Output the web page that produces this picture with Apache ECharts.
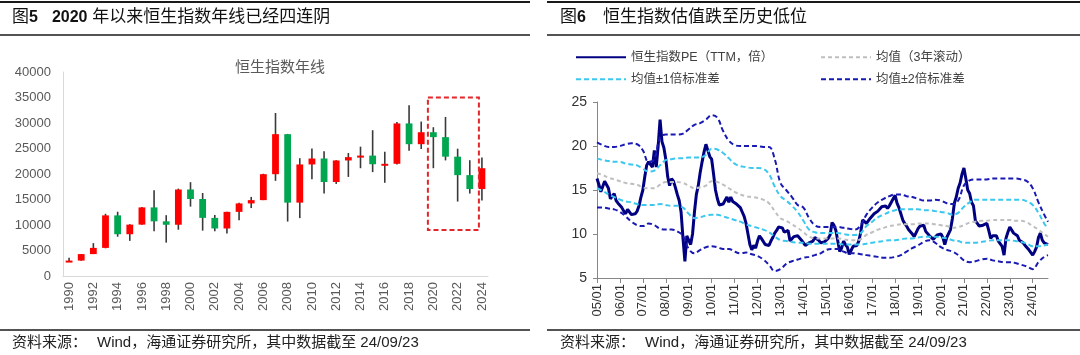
<!DOCTYPE html>
<html><head><meta charset="utf-8">
<script src="https://cdn.jsdelivr.net/npm/echarts@6/dist/echarts.min.js"></script>
<style>html,body{margin:0;padding:0;background:#fff}#c{width:1080px;height:355px}</style>
</head><body><div id="c"></div>
<script>
// ---------- Left panel: Hang Seng yearly candles ----------
const years = ['1990','1991','1992','1993','1994','1995','1996','1997','1998','1999','2000','2001','2002','2003','2004','2005','2006','2007','2008','2009','2010','2011','2012','2013','2014','2015','2016','2017','2018','2019','2020','2021','2022','2023','2024'];
const hsiOpen  = [2838,3025,4297,5512,11888,8191,10073,13451,10723,10049,16962,15096,11397,9321,12576,14230,14876,19965,27813,14387,21873,23035,18434,22657,23306,23605,21914,22001,29919,25846,28190,27231,23398,19781,17047];
const hsiClose = [3025,4297,5512,11888,8191,10073,13451,10723,10049,16962,15096,11397,9321,12576,14230,14876,19965,27813,14387,21873,23035,18434,22657,23306,23605,21914,22001,29919,25846,28190,27231,23398,19781,17047,21133];
const hsiLow   = [2736,2984,4297,5437,7707,6890,10073,8775,6545,9076,13597,8894,8772,8332,10918,13321,14876,18659,10676,11345,18971,16170,18056,19426,21137,20368,18279,21883,24541,24896,21139,22665,14597,16164,14794];
const hsiHigh  = [3559,4298,6447,12201,12599,10158,13530,16820,11926,17138,18397,16274,11975,12594,14339,15508,20049,31958,27853,23099,24988,24468,22718,24112,25363,28588,24364,30200,33484,30280,29175,31183,24966,22701,23241];
const boxRange = {fromYear:'2020', toYear:'2024', top:35000, bottom:9000};

// ---------- Right panel: HSI PE (monthly, 2005/01 - 2024/09) ----------
const peYears = ['05','06','07','08','09','10','11','12','13','14','15','16','17','18','19','20','21','22','23','24'];
const peValues = [
 16.3,15.6,14.8,15.4,16.0,16.1,15.2,14.0,14.3,14.6,13.8,13.5,
 13.3,13.0,12.6,12.3,12.8,12.6,12.2,12.0,12.3,12.6,13.2,14.2,
 15.0,16.5,17.8,18.2,18.0,17.6,19.5,17.6,20.0,23.0,20.5,19.8,
 18.5,16.5,15.5,16.3,16.0,15.3,14.5,13.8,12.5,9.5,6.9,9.8,
 10.0,8.8,10.0,12.5,14.5,15.5,17.0,18.2,19.3,20.2,19.5,18.8,
 18.5,16.8,15.0,14.0,13.3,13.5,13.4,13.8,14.2,13.6,14.2,13.7,
 13.8,13.4,13.6,13.0,12.5,12.0,11.2,10.0,8.8,8.2,8.7,8.4,
 9.2,9.8,9.5,9.3,8.8,9.0,8.7,9.2,9.6,10.1,10.4,10.8,
 11.0,10.7,10.2,10.0,10.4,9.2,9.3,9.7,9.6,9.8,9.7,9.3,
 9.1,8.7,8.8,9.0,8.9,9.2,9.6,9.8,9.3,9.0,9.2,9.1,
 9.2,9.5,9.9,11.3,11.0,10.4,9.2,8.0,8.4,9.2,8.8,8.5,
 7.7,7.5,8.6,8.8,8.7,9.2,10.2,11.6,11.5,11.2,11.3,11.8,
 12.0,12.3,12.4,12.6,12.8,13.1,13.0,13.2,12.9,13.2,13.6,13.8,
 14.4,13.5,13.0,12.3,11.6,11.2,10.9,10.5,10.3,10.0,9.7,9.8,
 10.6,10.9,11.0,11.0,10.3,10.2,9.8,9.6,9.4,9.5,9.9,10.1,
 10.0,9.6,8.8,9.6,9.8,10.5,11.8,13.5,14.2,15.2,15.8,16.8,
 17.5,16.3,15.0,14.6,13.6,13.2,11.5,11.2,10.9,10.8,11.0,11.1,
 11.2,10.4,9.5,9.8,9.7,9.8,9.2,9.0,8.6,7.6,9.5,10.2,
 10.8,10.6,10.1,10.2,9.8,9.3,9.3,9.0,8.7,8.6,8.2,8.0,
 7.6,8.0,8.5,9.6,10.1,9.3,9.0,8.8,8.8
];
// bands sampled quarterly (every 3rd month from 2005/01, last point 2024/09)
const meanBand = [16.9,16.7,16.4,16.2, 16.0,15.8,15.7,15.6, 15.3,15.2,15.2,15.6, 15.9,15.9,15.9,15.8, 15.5,15.2,15.3,15.5, 16.0,15.9,15.6,15.2, 14.8,14.5,14.3,14.2, 14.1,13.9,13.5,12.6, 11.8,11.5,11.1,10.7, 10.2,9.7,9.5,9.5, 9.5,9.5,9.5,9.4, 9.3,9.3,9.4,9.9, 10.2,10.5,10.7,10.9, 11.0,11.1,11.1,11.1, 11.2,11.2,11.2,11.1, 11.0,10.9,10.7,10.8, 11.0,11.3,11.4,11.5, 11.5,11.6,11.6,11.6, 11.6,11.5,11.5,11.3, 10.9,10.5,10.0,9.7];
const up1Band = [18.6,18.4,18.3,18.2, 18.2,18.0,17.9,17.8, 17.4,17.1,17.2,17.8, 18.4,18.5,18.6,18.6, 18.7,18.7,18.7,19.0, 19.7,19.6,19.2,18.6, 18.0,17.7,17.6,17.5, 17.5,17.4,16.8,15.4, 14.3,13.8,13.2,12.5, 11.5,10.5,10.2,10.1, 10.1,10.1,10.1,10.0, 9.9,9.9,10.1,10.9, 11.4,11.9,12.2,12.5, 12.7,12.8,12.8,12.8, 12.8,12.7,12.7,12.6, 12.5,12.4,12.2,12.4, 13.1,13.6,13.9,13.9, 13.9,13.9,13.9,13.9, 13.9,13.9,13.9,13.7, 13.3,12.4,11.2,10.6];
const dn1Band = [15.2,14.9,14.5,14.2, 13.9,13.7,13.6,13.4, 13.3,13.3,13.3,13.4, 13.3,13.2,13.2,13.0, 12.3,11.8,11.9,12.1, 12.2,12.2,12.0,11.8, 11.6,11.4,11.1,10.9, 10.7,10.5,10.2,9.7, 9.3,9.2,9.1,9.0, 9.0,8.9,8.9,8.9, 8.9,8.9,8.9,8.8, 8.8,8.8,8.8,8.9, 9.0,9.1,9.2,9.3, 9.3,9.4,9.5,9.5, 9.6,9.7,9.7,9.7, 9.6,9.5,9.3,9.2, 9.0,9.0,9.0,9.1, 9.2,9.3,9.3,9.3, 9.3,9.2,9.1,8.9, 8.6,8.6,8.7,8.8];
const up2Band = [20.4,20.1,19.9,19.9, 20.0,20.2,20.3,20.2, 19.5,18.2,18.5,21.0, 21.3,21.3,21.3,21.4, 21.9,22.4,22.6,23.0, 23.5,23.2,21.7,20.6, 20.1,20.0,20.0,20.0, 20.0,19.9,19.9,18.5, 15.8,15.0,14.2,13.3, 13.0,11.8,11.0,10.8, 10.8,10.8,10.8,10.7, 10.6,10.5,11.0,12.2, 13.0,13.6,14.0,14.3, 14.5,14.5,14.3,14.2, 14.0,13.8,13.8,13.9, 13.8,13.5,13.4,13.8, 15.5,16.1,16.2,16.2, 16.2,16.3,16.3,16.3, 16.3,16.3,16.2,16.0, 15.2,13.6,12.2,11.4];
const dn2Band = [13.0,13.0,12.9,12.8, 12.5,12.0,11.4,11.0, 10.9,11.2,11.0,10.6, 10.5,10.5,10.3,9.8, 8.3,7.8,8.2,8.5, 8.6,8.5,8.3,8.3, 8.0,7.8,7.9,7.7, 7.5,7.1,6.5,5.8, 6.0,6.6,6.9,7.1, 7.3,7.4,7.6,7.8, 8.2,8.3,8.3,8.0, 7.8,7.8,7.7,7.6, 7.5,7.4,7.3,7.3, 7.4,7.6,8.0,8.4, 8.7,9.1,9.3,9.0, 8.5,8.2,8.0,7.6, 7.0,6.8,6.9,7.1, 7.2,7.0,6.9,6.8, 6.8,6.7,6.5,6.3, 6.0,6.8,7.4,7.6];

const seriesNames = ['恒生指数PE（TTM，倍）','均值（3年滚动）','均值±1倍标准差','均值±2倍标准差'];

// ---- build category labels yy/mm ----
const months = [];
peYears.forEach(function (y) {
  for (let mm = 1; mm <= 12; mm++) {
    if (months.length < peValues.length) months.push(y + '/' + (mm < 10 ? '0' + mm : '' + mm));
  }
});
const lastIdx = months.length - 1;
function bandData(arr) {
  return arr.map(function (v, k) { return [Math.min(k * 3, lastIdx), v]; });
}

const candleData = years.map(function (y, i) { return [i, hsiOpen[i], hsiClose[i], hsiLow[i], hsiHigh[i]]; });

const UP = '#FF0000', DOWN = '#00A650';
const CJK = "'Liberation Sans','Noto Sans CJK SC',sans-serif";

const staticGraphics = [
  {type:'line', shape:{x1:0,y1:2,x2:530,y2:2}, style:{stroke:'#1a1a1a',lineWidth:2}},
  {type:'line', shape:{x1:547,y1:2,x2:1080,y2:2}, style:{stroke:'#1a1a1a',lineWidth:2}},
  {type:'line', shape:{x1:0,y1:35,x2:530,y2:35}, style:{stroke:'#1a1a1a',lineWidth:1.5}},
  {type:'line', shape:{x1:547,y1:35,x2:1080,y2:35}, style:{stroke:'#1a1a1a',lineWidth:1.5}},
  {type:'line', shape:{x1:0,y1:330,x2:530,y2:330}, style:{stroke:'#1a1a1a',lineWidth:1.5}},
  {type:'line', shape:{x1:547,y1:330,x2:1080,y2:330}, style:{stroke:'#1a1a1a',lineWidth:1.5}},
  {type:'text', left:12, top:9, style:{
    text:'{n|图}{b|5}{s| }{b|2020}{n| 年以来恒生指数年线已经四连阴}',
    rich:{n:{fontSize:17,fontFamily:CJK,fill:'#111'}, b:{fontSize:16,fontWeight:'bold',fontFamily:CJK,fill:'#111'}, s:{fontSize:16,width:14}}
  }},
  {type:'text', left:560, top:9, style:{
    text:'{n|图}{b|6}{s| }{n|恒生指数估值跌至历史低位}',
    rich:{n:{fontSize:17,fontFamily:CJK,fill:'#111'}, b:{fontSize:16,fontWeight:'bold',fontFamily:CJK,fill:'#111'}, s:{fontSize:16,width:17}}
  }},
  {type:'text', left:12, top:335, style:{
    text:'{n|资料来源：}{s| }{n|Wind，海通证券研究所，其中数据截至 24/09/23}',
    rich:{n:{fontSize:15,fontFamily:CJK,fill:'#222'}, s:{width:10}}
  }},
  {type:'text', left:560, top:335, style:{
    text:'{n|资料来源：}{s| }{n|Wind，海通证券研究所，其中数据截至 24/09/23}',
    rich:{n:{fontSize:15,fontFamily:CJK,fill:'#222'}, s:{width:10}}
  }}
];

function legendAt(name, left, top) {
  return {data:[name], left:left, top:top, itemWidth:50, itemHeight:14, itemGap:10,
    itemStyle:{opacity:0},
    textStyle:{fontSize:12.5, color:'#404040', fontFamily:CJK}, selectedMode:false};
}

const chart = echarts.init(document.getElementById('c'), null, {renderer:'canvas'});
const option = {
  animation:false,
  backgroundColor:'#fff',
  textStyle:{fontFamily:CJK},
  title:{text:'恒生指数年线', left:275, top:55, textAlign:'center',
    textStyle:{fontSize:15, fontWeight:'normal', color:'#595959', fontFamily:CJK}},
  legend:[
    legendAt(seriesNames[0], 570, 46),
    legendAt(seriesNames[1], 815, 46),
    legendAt(seriesNames[2], 570, 68),
    legendAt(seriesNames[3], 815, 68)
  ],
  grid:[
    {left:63, right:592, top:72, bottom:79},
    {left:597, right:32, top:102, bottom:77}
  ],
  xAxis:[
    {type:'category', gridIndex:0, data:years, boundaryGap:true,
     axisLine:{lineStyle:{color:'#d9d9d9'}},
     axisTick:{interval:1, length:5, lineStyle:{color:'#d9d9d9'}},
     axisLabel:{interval:1, rotate:90, fontSize:13, color:'#595959', margin:6, fontFamily:"'Liberation Sans',sans-serif"}},
    {type:'category', gridIndex:1, data:months, boundaryGap:false,
     axisLine:{lineStyle:{color:'#868686'}},
     axisTick:{interval:function(i,v){return v.slice(3)==='01';}, length:5, lineStyle:{color:'#868686'}},
     axisLabel:{interval:function(i,v){return v.slice(3)==='01';}, rotate:90, fontSize:13, color:'#333', margin:6, fontFamily:"'Liberation Sans',sans-serif"}}
  ],
  yAxis:[
    {type:'value', gridIndex:0, min:0, max:40000, interval:5000,
     axisLine:{show:true, lineStyle:{color:'#d9d9d9'}}, axisTick:{show:false}, splitLine:{show:false},
     axisLabel:{fontSize:13, color:'#595959', margin:12, fontFamily:"'Liberation Sans',sans-serif",
       formatter:function(v){return String(v);}}},
    {type:'value', gridIndex:1, min:5, max:25, interval:5,
     axisLine:{show:true, lineStyle:{color:'#868686'}}, axisTick:{show:true, length:4, lineStyle:{color:'#868686'}}, splitLine:{show:false},
     axisLabel:{fontSize:14, color:'#333', margin:10, fontFamily:"'Liberation Sans',sans-serif"}}
  ],
  series:[
    {type:'custom', name:'年线', xAxisIndex:0, yAxisIndex:0, data:candleData,
     encode:{x:0, y:[1,2,3,4]},
     renderItem:function(params, api){
       const x = api.value(0);
       const o = api.coord([x, api.value(1)]);
       const c = api.coord([x, api.value(2)]);
       const l = api.coord([x, api.value(3)]);
       const h = api.coord([x, api.value(4)]);
       const w = api.size([1,0])[0]*0.56;
       const up = api.value(2) >= api.value(1);
       const top = Math.min(o[1], c[1]);
       const hgt = Math.max(Math.abs(o[1]-c[1]), 2);
       return {type:'group', children:[
         {type:'line', shape:{x1:l[0], y1:l[1], x2:h[0], y2:h[1]}, style:{stroke:'#3a3a3a', lineWidth:1.6}},
         {type:'rect', shape:{x:o[0]-w/2, y:top, width:w, height:hgt}, style:{fill: up ? UP : DOWN}}
       ]};
     }},
    {type:'line', name:seriesNames[0], xAxisIndex:1, yAxisIndex:1, data:peValues, symbol:'none',
     lineStyle:{color:'#000080', width:3}, itemStyle:{color:'#000080'}, z:2},
    {type:'line', name:seriesNames[1], xAxisIndex:1, yAxisIndex:1, data:bandData(meanBand), symbol:'none', smooth:0.4,
     lineStyle:{color:'#BFBFBF', width:2, type:[4,3]}, itemStyle:{color:'#BFBFBF'}, z:3},
    {type:'line', name:seriesNames[2], xAxisIndex:1, yAxisIndex:1, data:bandData(up1Band), symbol:'none', smooth:0.4,
     lineStyle:{color:'#3CC8EE', width:2, type:[5,3]}, itemStyle:{color:'#3CC8EE'}, z:3},
    {type:'line', name:seriesNames[2], xAxisIndex:1, yAxisIndex:1, data:bandData(dn1Band), symbol:'none', smooth:0.4,
     lineStyle:{color:'#3CC8EE', width:2, type:[5,3]}, itemStyle:{color:'#3CC8EE'}, z:3},
    {type:'line', name:seriesNames[3], xAxisIndex:1, yAxisIndex:1, data:bandData(up2Band), symbol:'none', smooth:0.4,
     lineStyle:{color:'#1919B4', width:2, type:[5,3]}, itemStyle:{color:'#1919B4'}, z:3},
    {type:'line', name:seriesNames[3], xAxisIndex:1, yAxisIndex:1, data:bandData(dn2Band), symbol:'none', smooth:0.4,
     lineStyle:{color:'#1919B4', width:2, type:[5,3]}, itemStyle:{color:'#1919B4'}, z:3}
  ],
  graphic: staticGraphics
};
chart.setOption(option);

// red dashed highlight box, positioned from data values
const pA = chart.convertToPixel({xAxisIndex:0, yAxisIndex:0}, [boxRange.fromYear, boxRange.top]);
const pB = chart.convertToPixel({xAxisIndex:0, yAxisIndex:0}, [boxRange.toYear, boxRange.bottom]);
const pNext = chart.convertToPixel({xAxisIndex:0, yAxisIndex:0}, [years[years.indexOf(boxRange.fromYear)+1], boxRange.top]);
const bw = pNext[0] - pA[0];
const box = {type:'rect', z:100, shape:{x:pA[0]-0.45*bw, y:pA[1], width:(pB[0]-0.25*bw)-(pA[0]-0.45*bw), height:pB[1]-pA[1]},
  style:{fill:'none', stroke:'#E3262B', lineWidth:2, lineDash:[5,3]}};
chart.setOption({graphic: staticGraphics.concat([box])});
</script>
</body></html>
